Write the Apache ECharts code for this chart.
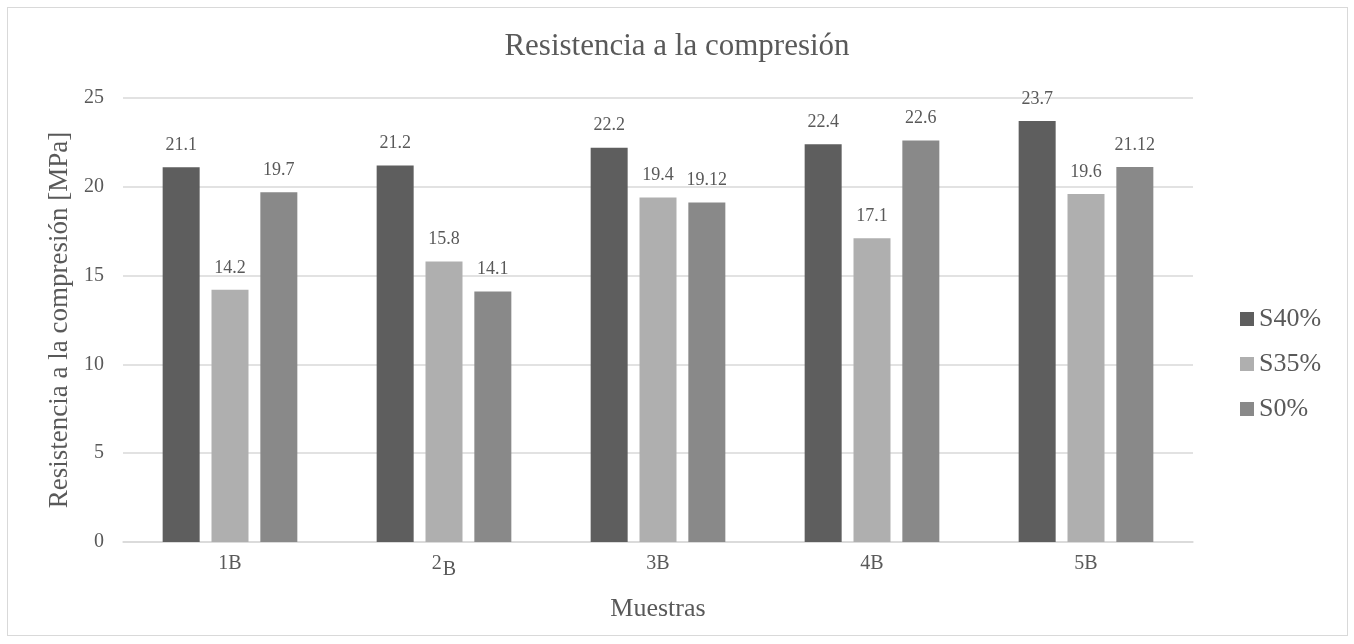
<!DOCTYPE html>
<html lang="es" style="height: 100%">
<head>
  <meta charset="utf-8">
  <title>Resistencia a la compresión</title>
  <script type="text/javascript" src="https://cdn.jsdelivr.net/npm/echarts@6/dist/echarts.min.js"></script>
</head>
<body style="height: 100%; margin: 0; background: #fff">
  <!-- marco gris del área del gráfico -->
  <div style="position: absolute; left: 7px; top: 7px; width: 1339px; height: 627px; border: 1.5px solid #d9d9d9"></div>
  <div id="chart" style="position: absolute; left: 0; top: 0; width: 1354px; height: 644px"></div>

  <script type="text/javascript">
    var dom = document.getElementById('chart');
    var myChart = echarts.init(dom);

    let muestras = ['1B', '2B', '3B', '4B', '5B'];
    let s40 = [21.1, 21.2, 22.2, 22.4, 23.7];
    let s35 = [14.2, 15.8, 19.4, 17.1, 19.6];
    let s0 = [19.7, 14.1, 19.12, 22.6, 21.12];
    let seriesNames = ['S40%', 'S35%', 'S0%'];
    let colores = ['#5e5e5e', '#afafaf', '#898989'];

    const fuente = '"Liberation Serif", "Times New Roman", serif';
    const gris = '#595959';

    function barra(nombre, valores, color) {
      return {
        name: nombre,
        type: 'bar',
        data: valores,
        barWidth: 37,
        barGap: '32%',
        itemStyle: { color: color },
        label: {
          show: true,
          position: 'top',
          distance: 13,
          color: gris,
          fontFamily: fuente,
          fontSize: 18
        }
      };
    }

    let option = {
      animation: false,
      textStyle: { fontFamily: fuente },
      title: {
        text: 'Resistencia a la compresión',
        left: 'center',
        top: 26,
        textStyle: { fontSize: 31, fontWeight: 'normal', color: gris, fontFamily: fuente }
      },
      legend: {
        orient: 'vertical',
        left: 1235,
        top: 301,
        itemWidth: 14,
        itemHeight: 14,
        itemGap: 19,
        icon: 'rect',
        data: seriesNames,
        textStyle: { fontSize: 26, color: gris, fontFamily: fuente }
      },
      grid: { left: 123, right: 161, top: 98, bottom: 102 },
      xAxis: {
        type: 'category',
        data: muestras,
        name: 'Muestras',
        nameLocation: 'middle',
        nameGap: 54,
        nameTextStyle: { fontSize: 26, color: gris, fontFamily: fuente },
        axisLine: { lineStyle: { color: '#d9d9d9', width: 1.5 } },
        axisTick: { show: false },
        axisLabel: {
          margin: 12,
          fontSize: 20,
          color: gris,
          fontFamily: fuente,
          formatter: function (v) {
            if (v === '2B') return '{n|2}{b|B}';
            return v;
          },
          rich: {
            n: { fontSize: 20, color: gris, fontFamily: fuente, verticalAlign: 'top', padding: [0, 1, 6, 0] },
            b: { fontSize: 20, color: gris, fontFamily: fuente, verticalAlign: 'bottom', padding: [6, 0, 0, 0] }
          }
        }
      },
      yAxis: {
        type: 'value',
        min: 0,
        max: 25,
        interval: 5,
        name: 'Resistencia a la compresión [MPa]',
        nameLocation: 'middle',
        nameGap: 48,
        nameTextStyle: { fontSize: 27, color: gris, fontFamily: fuente },
        axisLine: { show: false },
        axisTick: { show: false },
        axisLabel: { margin: 19, fontSize: 20, color: gris, fontFamily: fuente },
        splitLine: { lineStyle: { color: '#d9d9d9', width: 1.5 } }
      },
      series: [
        barra(seriesNames[0], s40, colores[0]),
        barra(seriesNames[1], s35, colores[1]),
        barra(seriesNames[2], s0, colores[2])
      ]
    };

    myChart.setOption(option);
  </script>
</body>
</html>
